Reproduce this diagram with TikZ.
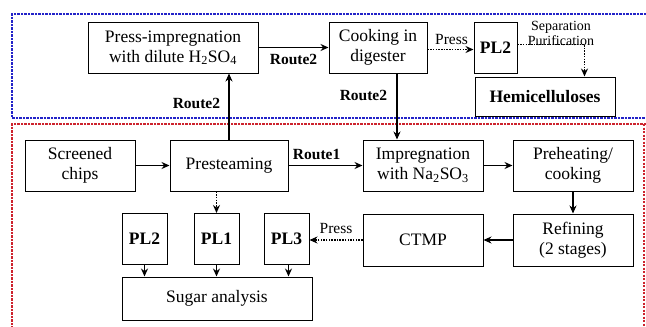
\documentclass[tikz,border=0pt]{standalone}
\usepackage{fontspec}
\setmainfont{Liberation Serif}
\usetikzlibrary{positioning,calc,arrows.meta}

\definecolor{zoneblue}{RGB}{35,35,200}
\definecolor{zonered}{RGB}{205,35,45}

\tikzset{
  box/.style={draw,line width=1pt,fill=white,align=center,inner sep=1pt,
    font=\fontsize{17.5}{20}\selectfont},
  plbox/.style={box,font=\fontsize{17.5}{20}\selectfont\bfseries},
  route/.style={font=\fontsize{15.5}{18}\selectfont\bfseries},
  lbl/.style={font=\fontsize{15.5}{18}\selectfont},
  small/.style={font=\fontsize{14}{15}\selectfont,align=center},
  flow/.style={-{Stealth[length=8pt,width=7pt]},line width=1.1pt},
  pressflow/.style={flow,line width=1.5pt,dash pattern=on 1.5pt off 1.2pt},
  zone/.style={line width=2.4pt,dash pattern=on 2.2pt off 1.3pt},
}

\begin{document}
\begin{tikzpicture}[x=1pt,y=-1pt]
\useasboundingbox (0,0) rectangle (646,327);

% the two zones
\draw[zone,zonered] (646,124) -- (12,124) -- (12,340);
\draw[zone,zonered] (644,124) -- (644,340);
\draw[zone,zoneblue] (646,14) -- (12,14) -- (12,118) -- (646,118);

% upper zone
\node [box,minimum width=170,minimum height=51] at (173,47.5) (press) {Press-impregnation\\with dilute H\textsubscript{2}SO\textsubscript{4}};
\node [box,minimum width=98,minimum height=51] at (378,47.5) (cook) {Cooking in\\digester};
\node [plbox,minimum width=43,minimum height=51] at (495.5,47.5) (plt) {PL2};
\node [plbox,minimum width=140,minimum height=39] at (545,96.5) (hemi) {Hemicelluloses};

% lower zone
\node [box,minimum width=110,minimum height=51] at (80,165.5) (chips) {Screened\\chips};
\node [box,minimum width=118,minimum height=51] at (229,165.5) (prest) {Presteaming};
\node [box,minimum width=120,minimum height=51] at (423,165.5) (impreg) {Impregnation\\with Na\textsubscript{2}SO\textsubscript{3}};
\node [box,minimum width=120,minimum height=51] at (573,165.5) (preheat) {Preheating/\\cooking};
\node [box,minimum width=120,minimum height=52] at (573,240) (refin) {Refining\\(2 stages)};
\node [box,minimum width=120,minimum height=52] at (423,240) (ctmp) {CTMP};
\node [plbox,minimum width=45,minimum height=51] at (144.5,239) (pla) {PL2};
\node [plbox,minimum width=45,minimum height=51] at (216.5,239) (plb) {PL1};
\node [plbox,minimum width=45,minimum height=51] at (286.5,239) (plc) {PL3};
\node [box,minimum width=190,minimum height=43] at (217,298.5) (sugar) {Sugar analysis};

% route 2
\draw [flow] (prest.north) -- node [route,left=5pt,pos=0.55] {Route2} (prest.north |- press.south);
\draw [flow] (press.east) -- node [route,below=3pt] {Route2} (cook.west);
\draw [flow] ([xshift=19]cook.south) -- node [route,left=6pt,pos=0.33] {Route2} ([xshift=19]cook.south |- impreg.north);
\draw [pressflow] ([yshift=-2]cook.east) -- node [lbl,above=1pt,xshift=1pt] {Press} ([yshift=-2]plt.west);
\coordinate (sep) at ([xshift=67,yshift=3]plt.east);
\draw [pressflow] ([yshift=3]plt.east) -- (sep) -- (sep |- hemi.north);
\node [small] at (561,33) (septxt) {Separation\\Purification};

% route 1
\draw [flow] (chips) -- (prest);
\draw [flow] (prest) -- node [route,above=2pt,pos=0.38] {Route1} (impreg);
\draw [flow] (impreg) -- (preheat);
\draw [flow] (preheat) -- (refin);
\draw [flow] (refin) -- (ctmp);
\draw [pressflow] (ctmp.west) -- node [lbl,above=2pt] {Press} (ctmp.west -| plc.east);

% pressate liquors
\draw [pressflow] (prest.south -| plb.north) -- (plb.north);
\draw [flow] (pla.south) -- (pla.south |- sugar.north);
\draw [flow] (plb.south) -- (plb.south |- sugar.north);
\draw [flow] ([xshift=2]plc.south) -- ([xshift=2]plc.south |- sugar.north);

\end{tikzpicture}
\end{document}
